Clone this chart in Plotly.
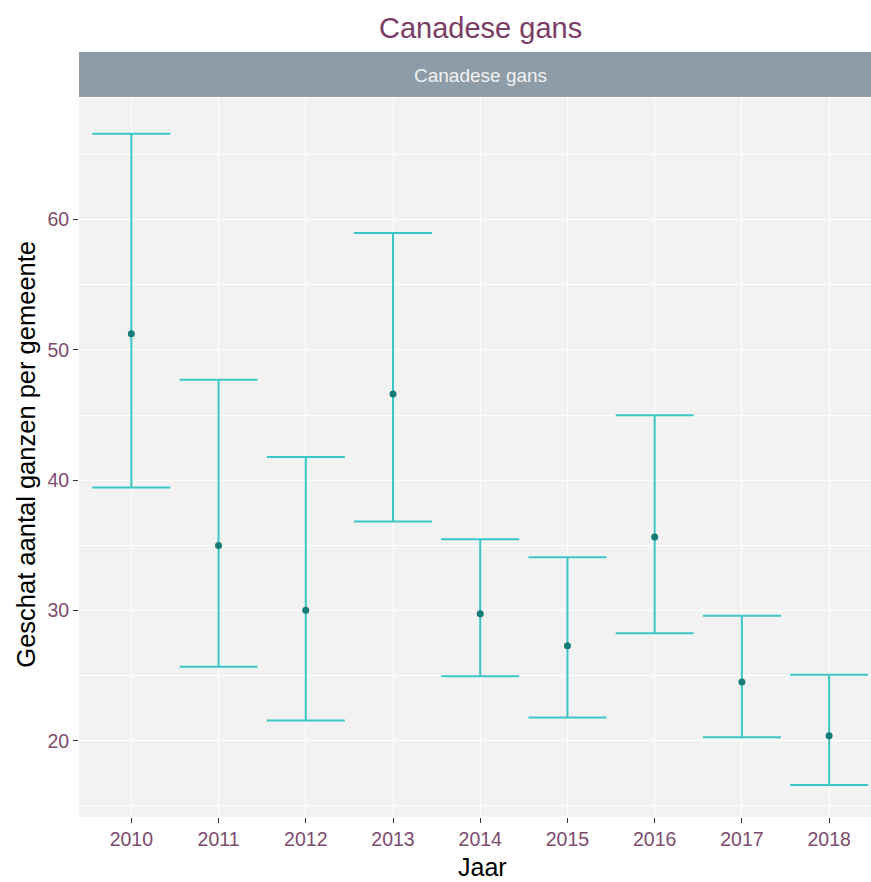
import plotly.graph_objects as go

# Estimated number of Canada geese per municipality, with confidence interval
years = [2010, 2011, 2012, 2013, 2014, 2015, 2016, 2017, 2018]
estimate = [51.24, 34.98, 30.02, 46.61, 29.74, 27.29, 35.64, 24.52, 20.38]
lower = [39.43, 25.68, 21.56, 36.82, 24.96, 21.79, 28.26, 20.28, 16.60]
upper = [66.58, 47.71, 41.78, 58.96, 35.47, 34.09, 44.98, 29.59, 25.06]

title_text = "Canadese gans"
x_title = "Jaar"
y_title = "Geschat aantal ganzen per gemeente"

PURPLE = "#7b3d66"
TICK_PURPLE = "#7d4b6e"
BAR_COLOR = "#3cc6c6"
POINT_COLOR = "#177b78"
FONT = "Liberation Sans, Arial, sans-serif"

W, H = 871, 882
ML, MT, MB = 78.6, 97.5, 65
plot_h = H - MT - MB

err_plus = [u - e for u, e in zip(upper, estimate)]
err_minus = [e - l for e, l in zip(estimate, lower)]

fig = go.Figure()
fig.add_trace(go.Scatter(
    x=years, y=estimate, mode="markers",
    marker=dict(size=7, color=POINT_COLOR),
    error_y=dict(type="data", symmetric=False, array=err_plus, arrayminus=err_minus,
                 color=BAR_COLOR, thickness=2, width=39),
    showlegend=False, hoverinfo="x+y",
))

def py(px):
    """pixel row -> paper y"""
    return (H - MB - px) / plot_h

fig.update_layout(
    width=W, height=H,
    margin=dict(l=ML, r=0, t=MT, b=MB, pad=0),
    paper_bgcolor="white",
    plot_bgcolor="#f2f2f2",
    font=dict(family=FONT),
    xaxis=dict(
        range=[2009.4, 2018.48], tickmode="array", tickvals=years,
        ticktext=[str(y) for y in years],
        showgrid=True, gridcolor="white", gridwidth=1.4, zeroline=False,
        ticks="outside", ticklen=5, tickwidth=1.2, tickcolor="#333333",
        tickfont=dict(size=19.5, color=TICK_PURPLE, family=FONT),
        showline=False, fixedrange=True,
    ),
    yaxis=dict(
        range=[14.15, 69.33], tick0=0, dtick=10,
        showgrid=True, gridcolor="white", gridwidth=1.4, zeroline=False,
        ticks="outside", ticklen=5, tickwidth=1.2, tickcolor="#333333",
        tickfont=dict(size=19.5, color=TICK_PURPLE, family=FONT),
        minor=dict(tick0=15, dtick=10, showgrid=True, gridcolor="white", gridwidth=0.7),
        showline=False, fixedrange=True,
    ),
    shapes=[dict(type="rect", xref="paper", yref="paper",
                 x0=0, x1=1, y0=py(96.5), y1=py(51.5),
                 fillcolor="#8d9ca6", line=dict(width=0), layer="above")],
    annotations=[
        dict(text=title_text, xref="paper", yref="paper",
             x=(480 - ML) / (W - ML), y=py(27), xanchor="center", yanchor="middle",
             showarrow=False, font=dict(size=29, color=PURPLE, family=FONT)),
        dict(text=title_text, xref="paper", yref="paper",
             x=(480 - ML) / (W - ML), y=py(75), xanchor="center", yanchor="middle",
             showarrow=False, font=dict(size=19, color="#f2f2f2", family=FONT)),
        dict(text=x_title, xref="paper", yref="paper",
             x=(482 - ML) / (W - ML), y=py(867), xanchor="center", yanchor="middle",
             showarrow=False, font=dict(size=25, color="black", family=FONT)),
        dict(text=y_title, xref="paper", yref="paper", textangle=-90,
             x=(26 - ML) / (W - ML), y=py(454), xanchor="center", yanchor="middle",
             showarrow=False, font=dict(size=25.5, color="black", family=FONT)),
    ],
)

fig.write_html("out.html", config={"displayModeBar": False})
